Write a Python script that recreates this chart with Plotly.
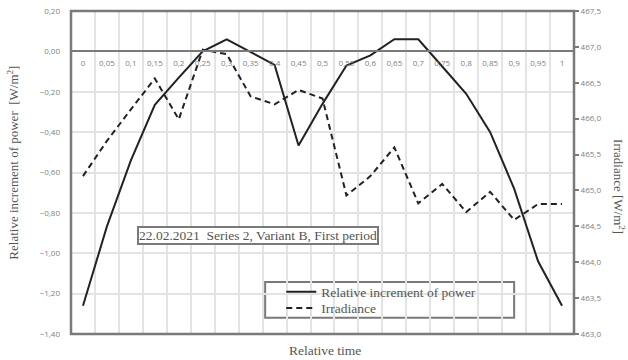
import plotly.graph_objects as go

time_labels = ["0", "0,05", "0,1", "0,15", "0,2", "0,25", "0,3", "0,35", "0,4", "0,45", "0,5",
               "0,55", "0,6", "0,65", "0,7", "0,75", "0,8", "0,85", "0,9", "0,95", "1"]
power = [-1.26, -0.867, -0.54, -0.265, -0.13, 0.0, 0.06, -0.005, -0.067, -0.466, -0.26,
         -0.07, -0.02, 0.06, 0.06, -0.075, -0.21, -0.40, -0.68, -1.04, -1.26]
irradiance = [465.2, 465.69, 466.13, 466.56, 465.99, 466.96, 466.9, 466.31, 466.2, 466.4, 466.28,
              464.93, 465.2, 465.6, 464.82, 465.09, 464.7, 464.98, 464.59, 464.81, 464.81]

y_range = [-1.4, 0.2]
y2_range = [463.0, 467.5]

serif = "Liberation Serif, Times New Roman, serif"
sans = "Open Sans, Liberation Sans, sans-serif"
ink = "#222222"
txt = "#555555"
frame = "#7a7a7a"

fig = go.Figure()
fig.add_trace(go.Scatter(x=time_labels, y=power, mode="lines", name="Relative increment of power",
                         line=dict(color=ink, width=2), legend="legend"))
fig.add_trace(go.Scatter(x=time_labels, y=irradiance, mode="lines", name="Irradiance", yaxis="y2",
                         line=dict(color=ink, width=2, dash="6px,4px"), legend="legend2"))

zero_pos = (0 - y_range[0]) / (y_range[1] - y_range[0])
tickfont = dict(family=sans, size=8, color="#808080")
legend_common = dict(xanchor="left", yanchor="middle", bgcolor="rgba(0,0,0,0)",
                     font=dict(family=serif, size=13.5, color=txt), itemwidth=30)

fig.update_layout(
    width=628, height=360,
    margin=dict(l=71, r=54, t=11, b=26, autoexpand=False),
    paper_bgcolor="white", plot_bgcolor="white",
    separators=", ",
    showlegend=True,
    xaxis=dict(type="category", tickson="boundaries", showgrid=True, gridcolor="#e3e3e3", gridwidth=1.5,
               anchor="free", position=zero_pos, showline=True, linecolor=frame, linewidth=2,
               ticks="", tickangle=0, tickfont=tickfont, automargin=False, ticklabelstandoff=4,
               range=[-0.5, len(time_labels) - 0.5], zeroline=False),
    yaxis=dict(range=y_range, dtick=0.2, tickformat=".2f", showgrid=True, gridcolor="#e3e3e3",
               gridwidth=1.5, zeroline=False, tickfont=tickfont, ticks="", ticklabelstandoff=10,
               automargin=False),
    yaxis2=dict(range=y2_range, dtick=0.5, tickformat=".1f", overlaying="y", side="right",
                showgrid=False, zeroline=False, tickfont=tickfont, automargin=False,
                ticks="outside", ticklen=4, tickcolor=frame, tickwidth=1.5),
    legend=dict(x=0.418, y=0.130, **legend_common),
    legend2=dict(x=0.418, y=0.080, **legend_common),
    shapes=[
        dict(type="rect", xref="x domain", yref="y domain", x0=0, x1=1, y0=0, y1=1,
             line=dict(color=frame, width=2.5), layer="above"),
        dict(type="rect", xref="x domain", yref="y domain", x0=0.386, x1=0.881, y0=0.05, y1=0.161,
             line=dict(color=frame, width=2), fillcolor="white", layer="below"),
    ],
    annotations=[
        dict(text="22.02.2021  Series 2, Variant B, First period", xref="paper", yref="paper",
             x=0.371, y=0.305, xanchor="center", yanchor="middle", showarrow=False,
             font=dict(family=serif, size=13.5, color=txt), bordercolor=frame, borderwidth=2,
             borderpad=0, bgcolor="white"),
        dict(text="Relative time", xref="paper", yref="paper", x=0.505, y=-0.05, yanchor="middle",
             showarrow=False, font=dict(family=serif, size=13.5, color=txt)),
        dict(text="Relative increment of power  [W/m<sup>2</sup>]", xref="paper", yref="paper",
             x=-0.115, y=0.531, textangle=-90, xanchor="center", yanchor="middle", showarrow=False,
             font=dict(family=serif, size=13, color=txt)),
        dict(text="Irradiance [W/m<sup>2</sup>]", xref="paper", yref="paper",
             x=1.0895, y=0.458, textangle=90, xanchor="center", yanchor="middle", showarrow=False,
             font=dict(family=serif, size=13, color=txt)),
    ],
)

fig.write_html("out.html", config={"displayModeBar": False},
               post_script="document.body.style.margin='0';")
